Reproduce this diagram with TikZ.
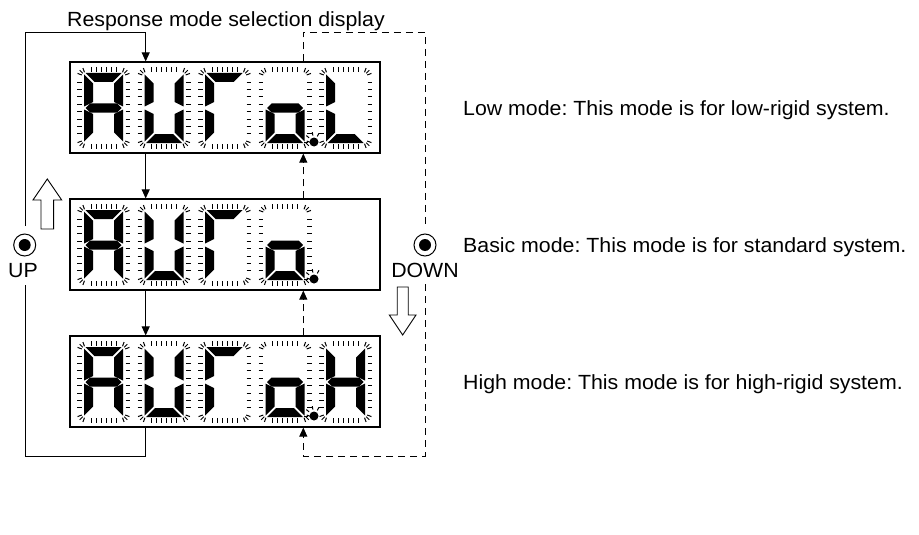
\documentclass[tikz,border=0pt]{standalone}
\usepackage{fontspec}
\setmainfont{Liberation Sans}[FakeStretch=1.04]
\usetikzlibrary{arrows.meta}
\frenchspacing

% lit segments of each character
\newcommand{\segsA}{a,b,c,e,f,g}
\newcommand{\segsU}{b,c,d,e,f}
\newcommand{\segsR}{a,e,f}
\newcommand{\segsO}{c,d,e,g}
\newcommand{\segsL}{d,e,f}
\newcommand{\segsH}{b,c,e,f,g}

% segment outlines, relative to the digit centre
\newcommand{\sega}{(-18,-35) -- (18,-35) -- (9,-26) -- (-9,-26) -- cycle}
\newcommand{\segd}{(-18,35) -- (18,35) -- (9,26) -- (-9,26) -- cycle}
\newcommand{\segf}{(-19.5,-33.5) -- (-10.5,-24.5) -- (-10.5,-6) -- (-19.5,-1.5) -- cycle}
\newcommand{\sege}{(-19.5,1.5) -- (-10.5,6) -- (-10.5,24.5) -- (-19.5,33.5) -- cycle}
\newcommand{\segb}{(19.5,-33.5) -- (10.5,-24.5) -- (10.5,-6) -- (19.5,-1.5) -- cycle}
\newcommand{\segc}{(19.5,1.5) -- (10.5,6) -- (10.5,24.5) -- (19.5,33.5) -- cycle}
\newcommand{\segg}{(-18,0) -- (-13.5,-4.5) -- (13.5,-4.5) -- (18,0) -- (13.5,4.5) -- (-13.5,4.5) -- cycle}

% one blinking digit: centre x, centre y, lit segments
\newcommand{\lcddigit}[3]{%
  \begin{scope}[shift={(#1,#2)}]
    \foreach \tx in {-12.5,-7.5,...,12.5} {
      \draw[tick] (\tx,-41) -- (\tx,-36);
      \draw[tick] (\tx,36) -- (\tx,41);
    }
    \foreach \ty in {-25.9,-18.5,-11.1,-3.7,3.7,11.1,18.5,25.9} {
      \draw[tick] (-26.5,\ty) -- (-22,\ty);
      \draw[tick] (22,\ty) -- (26.5,\ty);
    }
    \foreach \sx/\sy in {1/1,1/-1,-1/1,-1/-1}
      \foreach \a in {20,45,70}
        \draw[tick] ({\sx*(17.5+4.5*cos(\a))},{\sy*(31.5+4.5*sin(\a))})
          -- ({\sx*(17.5+9*cos(\a))},{\sy*(31.5+9*sin(\a))});
    \foreach \s in #3 {\expandafter\fill\csname seg\s\endcsname;}
  \end{scope}}

% blinking decimal point
\newcommand{\lcdpoint}[2]{%
  \begin{scope}[shift={(#1,#2)}]
    \fill (0,0) circle (4.5);
    \foreach \a in {60,100,140,180}
      \draw[tick] ({6.5*cos(\a)},{-6.5*sin(\a)}) -- ({10*cos(\a)},{-10*sin(\a)});
  \end{scope}}

\begin{document}
\begin{tikzpicture}[x=1pt, y=-1pt,
  dispbox/.style={draw, line width=1.2pt, minimum width=310pt, minimum height=91pt, inner sep=0pt},
  wire/.style={line width=0.9pt},
  flow/.style={wire, -{Triangle[length=9pt,width=8pt]}},
  dwire/.style={wire, dash pattern=on 7pt off 5pt},
  dflow/.style={flow, dash pattern=on 7pt off 5pt},
  tick/.style={line width=1pt},
  btn/.style={circle, draw, line width=1pt, minimum size=22pt, inner sep=0pt,
    path picture={\fill (path picture bounding box.center) circle (6pt);}},
  lbl/.style={font=\fontsize{20.5}{24}\selectfont, inner sep=0pt}]
  \useasboundingbox (0,0) rectangle (919,535);

  % Display frames
  \node[dispbox] (low) at (225,107.5) {};
  \node[dispbox] (basic) at (225,244.5) {};
  \node[dispbox] (high) at (225,381.5) {};

  % Characters
  \foreach \cy in {108,245,382} {
    \lcddigit{103.5}{\cy}{\segsA}
    \lcddigit{164}{\cy}{\segsU}
    \lcddigit{224.5}{\cy}{\segsR}
    \lcddigit{285}{\cy}{\segsO}
    \lcdpoint{314}{\cy+34}
  }
  \lcddigit{345.5}{108}{\segsL}
  \lcddigit{345.5}{382}{\segsH}

  % Texts
  \node[lbl, anchor=base west] (title) at (67,27) {Response mode selection display};
  \node[lbl, anchor=base west] (lowtxt) at (463,116) {Low mode: This mode is for low-rigid system.};
  \node[lbl, anchor=base west] (basictxt) at (463,252) {Basic mode: This mode is for standard system.};
  \node[lbl, anchor=base west] (hightxt) at (463,389) {High mode: This mode is for high-rigid system.};

  % Push buttons
  \node[btn] (upbtn) at (24.7,245) {};
  \node[btn] (dnbtn) at (425,245) {};
  \node[lbl, anchor=base] (uplbl) at (23,277) {UP};
  \node[lbl, anchor=base] (dnlbl) at (425,277) {DOWN};

  % Hollow direction arrows
  \draw[wire] (47.3,179) -- (61.7,200) -- (53.6,200) -- (53.6,229)
    -- (41,229) -- (41,200) -- (33,200) -- cycle;
  \draw[wire] (402.7,335) -- (416,315) -- (408.2,315) -- (408.2,287)
    -- (397.2,287) -- (397.2,315) -- (389.3,315) -- cycle;

  % Loop corners and line columns
  \coordinate (upx) at (145.7,0);
  \coordinate (dnx) at (303.3,0);
  \coordinate (ltop) at (25,32);
  \coordinate (lbot) at (25,456);
  \coordinate (upgap1) at (25,226);
  \coordinate (upgap2) at (25,285);
  \coordinate (rtop) at (425,32);
  \coordinate (rbot) at (425,456);
  \coordinate (dngap1) at (425,228);
  \coordinate (dngap2) at (425,284);

  % UP sequence
  \draw[flow] (upgap1) -- (ltop) -| (low.north -| upx);
  \draw[flow] (low.south -| upx) -- (basic.north -| upx);
  \draw[flow] (basic.south -| upx) -- (high.north -| upx);
  \draw[wire] (high.south -| upx) |- (lbot) -- (upgap2);

  % DOWN sequence
  \draw[dwire] (low.north -| dnx) |- (rtop) -- (dngap1);
  \draw[dflow] (dngap2) -- (rbot) -| (high.south -| dnx);
  \draw[dflow] (high.north -| dnx) -- (basic.south -| dnx);
  \draw[dflow] (basic.north -| dnx) -- (low.south -| dnx);
\end{tikzpicture}
\end{document}
